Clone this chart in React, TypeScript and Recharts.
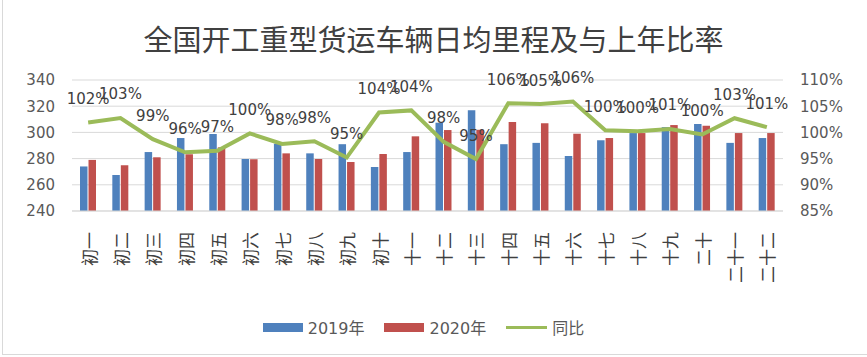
import React from 'react';
import {
  ComposedChart,
  Bar,
  Line,
  XAxis,
  YAxis,
  CartesianGrid,
  Legend,
  LabelList,
} from 'recharts';

const days = [
  '初一', '初二', '初三', '初四', '初五', '初六', '初七', '初八', '初九', '初十', '十一',
  '十二', '十三', '十四', '十五', '十六', '十七', '十八', '十九', '二十', '二十一', '二十二',
];
const km2019 = [274, 267.5, 285, 295.7, 298.8, 279.7, 291.4, 284, 291, 273.6, 285, 307.4, 317, 291, 292, 282, 294, 299.5, 304, 306.4, 292, 295.7];
const km2020 = [279, 275, 281, 283.3, 288.6, 279.5, 284, 279.7, 277.4, 283.5, 297, 301.8, 302, 308, 307, 299, 295.7, 299.5, 305.6, 305, 299.5, 299.5];
const yoy = [101.9, 102.75, 98.7, 96.2, 96.5, 99.8, 97.8, 98.3, 95.2, 103.8, 104.2, 98.2, 94.9, 105.55, 105.4, 105.9, 100.4, 100.2, 100.65, 99.6, 102.7, 101];
const leftTicks = [240, 260, 280, 300, 320, 340];
const rightTicks = [85, 90, 95, 100, 105, 110];

const BLUE = '#4f81bd';
const RED = '#c0504d';
const GREEN = '#9bbb59';
const FONT = '"DejaVu Sans", sans-serif';

const rows = days.map((d, i) => ({ day: d, a: km2019[i], b: km2020[i], r: yoy[i] }));

const DayTick = (props: any) => {
  const { x, y, payload } = props;
  return (
    <text
      transform={`translate(${x},${y + 21}) rotate(-90)`}
      textAnchor="end"
      dominantBaseline="central"
      fill="#404040"
      fontSize={17}
      fontFamily='"Noto Sans CJK SC", sans-serif'
    >
      {payload.value}
    </text>
  );
};

const PctLabel = (props: any) => {
  const { x, y, value } = props;
  return (
    <text x={x} y={y - 18.5} textAnchor="middle" fill="#404040" fontSize={15} fontFamily={FONT}>
      {`${Math.round(value)}%`}
    </text>
  );
};

const LegendBox = () => {
  const item = (swatch: React.ReactNode, label: string) => (
    <div style={{ display: 'flex', alignItems: 'center', marginRight: 20 }}>
      {swatch}
      <span style={{ marginLeft: 5, fontSize: 16, color: '#595959', fontFamily: '"DejaVu Sans", "Noto Sans CJK SC", sans-serif' }}>
        {label}
      </span>
    </div>
  );
  return (
    <div style={{ display: 'flex', justifyContent: 'center', alignItems: 'center', height: 24 }}>
      {item(<div style={{ width: 40, height: 9, background: BLUE }} />, '2019年')}
      {item(<div style={{ width: 40, height: 9, background: RED }} />, '2020年')}
      {item(<div style={{ width: 41, height: 3, background: GREEN }} />, '同比')}
    </div>
  );
};

export default function App() {
  return (
    <div
      style={{
        position: 'fixed',
        left: 0,
        top: 0,
        width: 867,
        height: 357,
        background: '#fff',
      }}
    >
      <div
        style={{
          position: 'absolute',
          left: 2,
          top: 0,
          width: 865,
          height: 354,
          borderLeft: '1px solid #d9d9d9',
          borderBottom: '1px solid #d9d9d9',
        }}
      />
      <div
        style={{
          position: 'absolute',
          left: 0,
          top: 23,
          width: 867,
          textAlign: 'center',
          fontSize: 29,
          lineHeight: '30px',
          color: '#404040',
          fontFamily: '"Noto Sans CJK SC", sans-serif',
        }}
      >
        全国开工重型货运车辆日均里程及与上年比率
      </div>
      <ComposedChart
        width={867}
        height={357}
        data={rows}
        margin={{ top: 80, right: 0, bottom: 18, left: 0 }}
        barSize={7.5}
        barGap={1}
        style={{ position: 'absolute', left: 0, top: 0 }}
      >
        <CartesianGrid yAxisId="left" vertical={false} stroke="#d9d9d9" />
        <XAxis
          dataKey="day"
          height={104}
          interval={0}
          tick={<DayTick />}
          tickLine={false}
          tickSize={0}
          tickMargin={0}
          axisLine={{ stroke: '#d9d9d9' }}
        />
        <YAxis
          yAxisId="left"
          width={72}
          domain={[240, 340]}
          ticks={leftTicks}
          tickLine={false}
          axisLine={false}
          tickSize={0}
          tickMargin={17}
          tick={{ fill: '#595959', fontSize: 15, fontFamily: FONT }}
        />
        <YAxis
          yAxisId="right"
          orientation="right"
          width={84}
          domain={[85, 110]}
          ticks={rightTicks}
          tickLine={false}
          axisLine={false}
          tickSize={0}
          tickMargin={17}
          tickFormatter={(v: number) => `${v}%`}
          tick={{ fill: '#595959', fontSize: 15, fontFamily: FONT }}
        />
        <Legend verticalAlign="bottom" content={<LegendBox />} />
        <Bar yAxisId="left" dataKey="a" name="2019年" fill={BLUE} isAnimationActive={false} />
        <Bar yAxisId="left" dataKey="b" name="2020年" fill={RED} isAnimationActive={false} />
        <Line
          yAxisId="right"
          type="linear"
          dataKey="r"
          name="同比"
          stroke={GREEN}
          strokeWidth={4}
          dot={false}
          isAnimationActive={false}
        >
          <LabelList dataKey="r" content={<PctLabel />} />
        </Line>
      </ComposedChart>
    </div>
  );
}
